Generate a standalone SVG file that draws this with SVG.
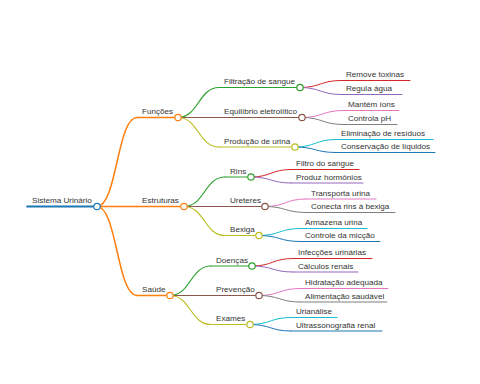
<svg xmlns="http://www.w3.org/2000/svg" width="480" height="384" viewBox="0 0 480 384">
<style>
text{font-family:"Liberation Sans",Arial,sans-serif;font-size:8.1px;fill:#333}
path,line{fill:none;stroke-linecap:round}
circle{fill:#fff;stroke-width:1.2}
.l0{stroke-width:1.8}.l1{stroke-width:1.5}.l2{stroke-width:1.2}.l3{stroke-width:1}
.c0{stroke:#1f77b4}.c1{stroke:#ff7f0e}.c2{stroke:#2ca02c}.c3{stroke:#d62728}.c4{stroke:#9467bd}
.c5{stroke:#8c564b}.c6{stroke:#e377c2}.c7{stroke:#7f7f7f}.c8{stroke:#bcbd22}.c9{stroke:#17becf}
</style>
<g id="connectors">
<path class="l1 c1" d="M97,206.5 C117,206.5 117,117.5 137,117.5"/>
<path class="l1 c1" d="M97,206.5 L137,206.5"/>
<path class="l1 c1" d="M97,206.5 C117,206.5 117,295.5 137,295.5"/>
<path class="l2 c2" d="M178,117.5 C198.5,117.5 198.5,87.5 219,87.5"/>
<path class="l2 c5" d="M178,117.5 L219,117.5"/>
<path class="l2 c8" d="M178,117.5 C198.5,117.5 198.5,147 219,147"/>
<path class="l2 c2" d="M184,206.5 C204.5,206.5 204.5,177 225,177"/>
<path class="l2 c5" d="M184,206.5 L225,206.5"/>
<path class="l2 c8" d="M184,206.5 C204.5,206.5 204.5,235.5 225,235.5"/>
<path class="l2 c2" d="M170,295.5 C190.5,295.5 190.5,266 211,266"/>
<path class="l2 c5" d="M170,295.5 L211,295.5"/>
<path class="l2 c8" d="M170,295.5 C190.5,295.5 190.5,324.5 211,324.5"/>
<path class="l3 c3" d="M300,87.5 C320.5,87.5 320.5,80.5 341,80.5"/>
<path class="l3 c4" d="M300,87.5 C320.5,87.5 320.5,94.5 341,94.5"/>
<path class="l3 c6" d="M302,117.5 C322.5,117.5 322.5,110.5 343,110.5"/>
<path class="l3 c7" d="M302,117.5 C322.5,117.5 322.5,124.5 343,124.5"/>
<path class="l3 c9" d="M295,147 C315.5,147 315.5,139.5 336,139.5"/>
<path class="l3 c0" d="M295,147 C315.5,147 315.5,152.5 336,152.5"/>
<path class="l3 c3" d="M251,177 C271,177 271,169.5 291,169.5"/>
<path class="l3 c4" d="M251,177 C271,177 271,183 291,183"/>
<path class="l3 c6" d="M265,206.5 C285.5,206.5 285.5,199 306,199"/>
<path class="l3 c7" d="M265,206.5 C285.5,206.5 285.5,212.5 306,212.5"/>
<path class="l3 c9" d="M259,235.5 C279.5,235.5 279.5,228.5 300,228.5"/>
<path class="l3 c0" d="M259,235.5 C279.5,235.5 279.5,241.5 300,241.5"/>
<path class="l3 c3" d="M252,266 C272.5,266 272.5,258.5 293,258.5"/>
<path class="l3 c4" d="M252,266 C272.5,266 272.5,272 293,272"/>
<path class="l3 c6" d="M259,295.5 C279.5,295.5 279.5,288.5 300,288.5"/>
<path class="l3 c7" d="M259,295.5 C279.5,295.5 279.5,302 300,302"/>
<path class="l3 c9" d="M250,324.5 C270.5,324.5 270.5,317.5 291,317.5"/>
<path class="l3 c0" d="M250,324.5 C270.5,324.5 270.5,331 291,331"/>
</g>
<g id="n-root"><line class="l0 c0" x1="27" y1="206.5" x2="94" y2="206.5"/><circle class="c0" cx="97" cy="206.5" r="3.2"/><text x="32" y="203">Sistema Urinário</text></g>
<g id="n-funcoes"><line class="l1 c1" x1="137" y1="117.5" x2="175" y2="117.5"/><circle class="c1" cx="178" cy="117.5" r="3.2"/><text x="142" y="114">Funções</text></g>
<g id="n-estruturas"><line class="l1 c1" x1="137" y1="206.5" x2="181" y2="206.5"/><circle class="c1" cx="184" cy="206.5" r="3.2"/><text x="142" y="203">Estruturas</text></g>
<g id="n-saude"><line class="l1 c1" x1="137" y1="295.5" x2="167" y2="295.5"/><circle class="c1" cx="170" cy="295.5" r="3.2"/><text x="142" y="292">Saúde</text></g>
<g id="n-filtracao"><line class="l2 c2" x1="219" y1="87.5" x2="297" y2="87.5"/><circle class="c2" cx="300" cy="87.5" r="3.2"/><text x="224" y="84">Filtração de sangue</text></g>
<g id="n-equilibrio"><line class="l2 c5" x1="219" y1="117.5" x2="299" y2="117.5"/><circle class="c5" cx="302" cy="117.5" r="3.2"/><text x="224" y="114">Equilíbrio eletrolítico</text></g>
<g id="n-producao"><line class="l2 c8" x1="219" y1="147" x2="292" y2="147"/><circle class="c8" cx="295" cy="147" r="3.2"/><text x="224" y="143.5">Produção de urina</text></g>
<g id="n-rins"><line class="l2 c2" x1="225" y1="177" x2="248" y2="177"/><circle class="c2" cx="251" cy="177" r="3.2"/><text x="230" y="173.5">Rins</text></g>
<g id="n-ureteres"><line class="l2 c5" x1="225" y1="206.5" x2="262" y2="206.5"/><circle class="c5" cx="265" cy="206.5" r="3.2"/><text x="230" y="203">Ureteres</text></g>
<g id="n-bexiga"><line class="l2 c8" x1="225" y1="235.5" x2="256" y2="235.5"/><circle class="c8" cx="259" cy="235.5" r="3.2"/><text x="230" y="232">Bexiga</text></g>
<g id="n-doencas"><line class="l2 c2" x1="211" y1="266" x2="249" y2="266"/><circle class="c2" cx="252" cy="266" r="3.2"/><text x="216" y="262.5">Doenças</text></g>
<g id="n-prevencao"><line class="l2 c5" x1="211" y1="295.5" x2="256" y2="295.5"/><circle class="c5" cx="259" cy="295.5" r="3.2"/><text x="216" y="292">Prevenção</text></g>
<g id="n-exames"><line class="l2 c8" x1="211" y1="324.5" x2="247" y2="324.5"/><circle class="c8" cx="250" cy="324.5" r="3.2"/><text x="216" y="321">Exames</text></g>
<g id="n-remove"><line class="l3 c3" x1="341" y1="80.5" x2="410" y2="80.5"/><text x="346" y="77">Remove toxinas</text></g>
<g id="n-regula"><line class="l3 c4" x1="341" y1="94.5" x2="402" y2="94.5"/><text x="346" y="91">Regula água</text></g>
<g id="n-mantem"><line class="l3 c6" x1="343" y1="110.5" x2="399" y2="110.5"/><text x="348" y="107">Mantém íons</text></g>
<g id="n-controla"><line class="l3 c7" x1="343" y1="124.5" x2="397" y2="124.5"/><text x="348" y="121">Controla pH</text></g>
<g id="n-eliminacao"><line class="l3 c9" x1="336" y1="139.5" x2="433" y2="139.5"/><text x="341" y="136">Eliminação de resíduos</text></g>
<g id="n-conservacao"><line class="l3 c0" x1="336" y1="152.5" x2="435" y2="152.5"/><text x="341" y="149">Conservação de líquidos</text></g>
<g id="n-filtro"><line class="l3 c3" x1="291" y1="169.5" x2="359" y2="169.5"/><text x="296" y="166">Filtro do sangue</text></g>
<g id="n-produz"><line class="l3 c4" x1="291" y1="183" x2="363" y2="183"/><text x="296" y="179.5">Produz hormônios</text></g>
<g id="n-transporta"><line class="l3 c6" x1="306" y1="199" x2="376" y2="199"/><text x="311" y="195.5">Transporta urina</text></g>
<g id="n-conecta"><line class="l3 c7" x1="306" y1="212.5" x2="395" y2="212.5"/><text x="311" y="209">Conecta rins à bexiga</text></g>
<g id="n-armazena"><line class="l3 c9" x1="300" y1="228.5" x2="367" y2="228.5"/><text x="305" y="225">Armazena urina</text></g>
<g id="n-controle"><line class="l3 c0" x1="300" y1="241.5" x2="380" y2="241.5"/><text x="305" y="238">Controle da micção</text></g>
<g id="n-infeccoes"><line class="l3 c3" x1="293" y1="258.5" x2="372" y2="258.5"/><text x="298" y="255">Infecções urinárias</text></g>
<g id="n-calculos"><line class="l3 c4" x1="293" y1="272" x2="358" y2="272"/><text x="298" y="268.5">Cálculos renais</text></g>
<g id="n-hidratacao"><line class="l3 c6" x1="300" y1="288.5" x2="388" y2="288.5"/><text x="305" y="285">Hidratação adequada</text></g>
<g id="n-alimentacao"><line class="l3 c7" x1="300" y1="302" x2="387" y2="302"/><text x="305" y="298.5">Alimentação saudável</text></g>
<g id="n-urianalise"><line class="l3 c9" x1="291" y1="317.5" x2="337" y2="317.5"/><text x="296" y="314">Urianálise</text></g>
<g id="n-ultrassonografia"><line class="l3 c0" x1="291" y1="331" x2="382" y2="331"/><text x="296" y="327.5">Ultrassonografia renal</text></g>
</svg>
